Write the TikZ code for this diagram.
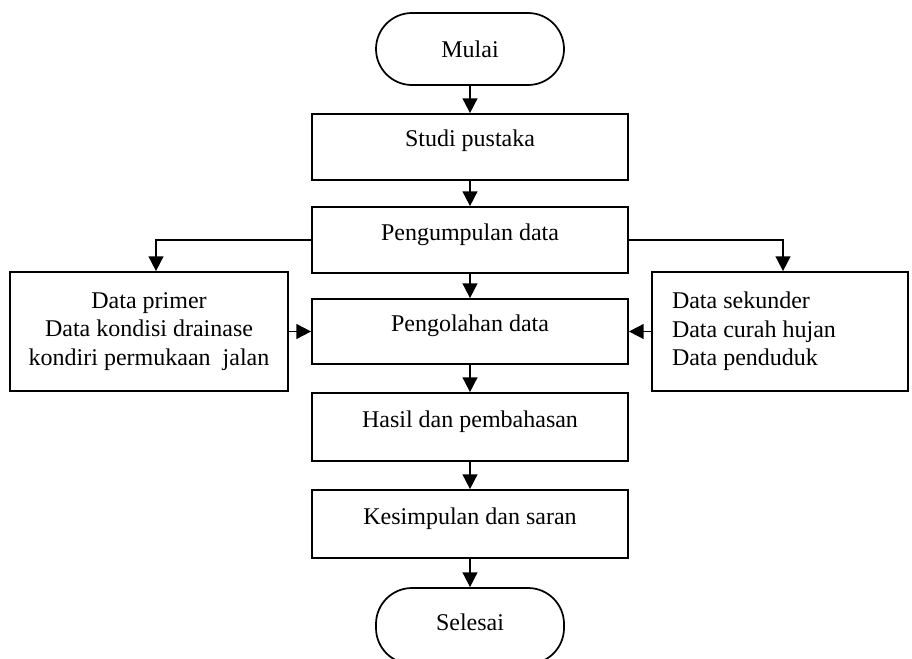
\documentclass[tikz,border=0pt]{standalone}
\usepackage{fontspec}
\setmainfont{Liberation Serif}
\usetikzlibrary{arrows.meta}
\begin{document}
\begin{tikzpicture}[x=0.75pt,y=-0.75pt,
  txt/.style={font=\fontsize{18}{21.5}\selectfont},
  box/.style={txt,draw,line width=1.3pt,minimum width=237pt,minimum height=49.5pt,inner sep=0pt,text height=12pt,text depth=12pt},
  term/.style={txt,draw,line width=1.3pt,rounded corners=27pt,minimum width=141pt,minimum height=54pt,inner sep=0pt},
  side/.style={txt,draw,line width=1.3pt,minimum height=89.25pt},
  arr/.style={line width=1.3pt,-{Triangle[length=11pt,width=11pt]}}]
\useasboundingbox (0,0) rectangle (912,659);
\node[term] (mulai) at (470,49) {Mulai};
\node[box] (studi) at (470,147) {Studi pustaka};
\node[box] (kumpul) at (470,240) {Pengumpulan data};
\node[box,minimum height=48.75pt] (olah) at (470,331.5) {Pengolahan data};
\node[box,minimum height=51pt] (hasil) at (470,427) {Hasil dan pembahasan};
\node[box,minimum height=51pt] (simpul) at (470,524) {Kesimpulan dan saran};
\node[term,minimum height=57pt,text height=12pt,text depth=5pt] (selesai) at (470,626) {Selesai};
\node[side,minimum width=208.5pt,inner sep=0pt,align=center] (kiri) at (149,331.5)
  {Data primer\\Data kondisi drainase\\kondiri permukaan\ \ jalan};
\node[side,text width=162pt,inner xsep=15pt,inner ysep=0pt,align=flush left] (kanan) at (780,331.5)
  {Data sekunder\\Data curah hujan\\Data penduduk\\[21.5pt]};
\draw[arr] (mulai) -- (studi);
\draw[arr] (studi) -- (kumpul);
\draw[arr] (kumpul.west) -| ([xshift=5.25pt]kiri.north);
\draw[arr] (kumpul.east) -| ([xshift=2.25pt]kanan.north);
\draw[arr] (kumpul) -- (olah);
\draw[arr] (kiri) -- (olah);
\draw[arr] (kanan) -- (olah);
\draw[arr] (olah) -- (hasil);
\draw[arr] (hasil) -- (simpul);
\draw[arr] (simpul) -- (selesai);
\end{tikzpicture}
\end{document}
